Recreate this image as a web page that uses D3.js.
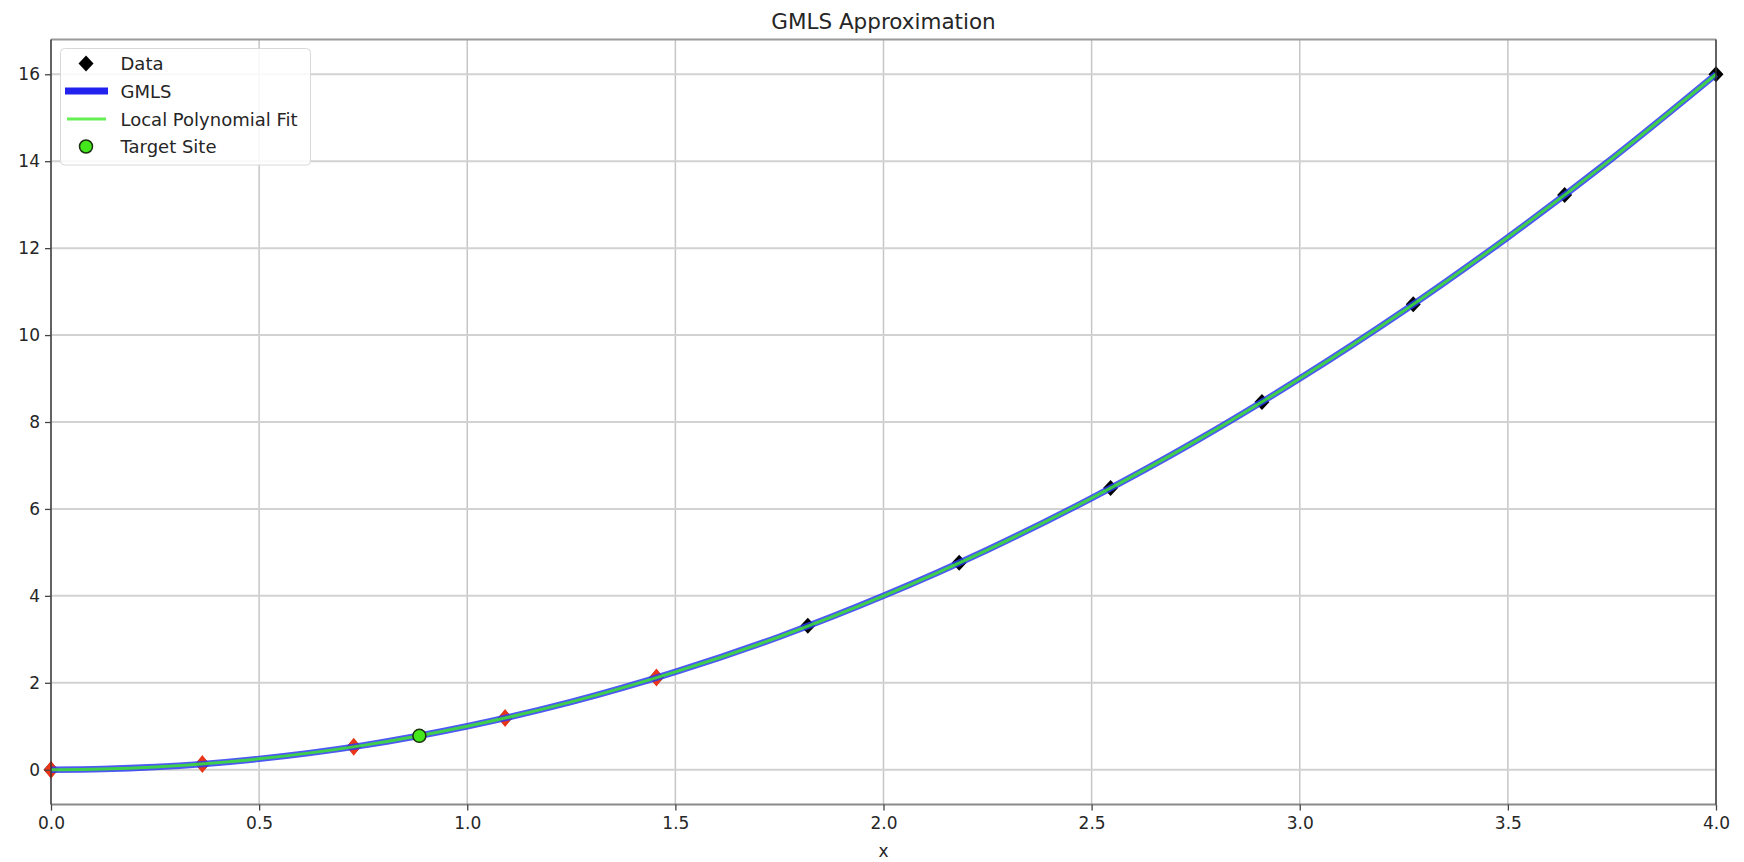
<!DOCTYPE html>
<html>
<head>
<meta charset="utf-8">
<script src="https://cdn.jsdelivr.net/npm/d3@7"></script>
<style>
  body { margin: 0; background: #fff; }
  svg { display: block; }
  text { font-family: "DejaVu Sans", sans-serif; fill: #262626; }
</style>
</head>
<body>
<svg id="chart" width="1744" height="862"></svg>
<script>
// Sample sites and sampled values of f(x) = x^2
const dataX = [0, 0.3636, 0.7273, 1.0909, 1.4545, 1.8182, 2.1818, 2.5455, 2.9091, 3.2727, 3.6364, 4.0];
const dataY = [0, 0.13, 0.53, 1.19, 2.12, 3.31, 4.76, 6.48, 8.46, 10.71, 13.22, 16.0];

// Sites inside the support of the target site
const neighborX = [0, 0.3636, 0.7273, 1.0909, 1.4545];
const neighborY = [0, 0.13, 0.53, 1.19, 2.12];

// Evaluated curves
const curveX = [0, 0.125, 0.25, 0.5, 0.75, 1.0, 1.25, 1.5, 1.75, 2.0, 2.25, 2.5, 2.75, 3.0, 3.25, 3.5, 3.75, 4.0];
const gmlsY = [0.0, 0.015, 0.06, 0.25, 0.56, 1.0, 1.56, 2.25, 3.06, 4.0, 5.06, 6.25, 7.56, 9.0, 10.56, 12.25, 14.06, 16.0];
const localFitY = [0.0, 0.016, 0.063, 0.25, 0.56, 1.0, 1.56, 2.25, 3.06, 4.0, 5.06, 6.25, 7.56, 9.0, 10.56, 12.25, 14.06, 16.0];

// Target site
const targetX = [0.885];
const targetY = [0.78];

// Axes
const xTicks = [0, 0.5, 1.0, 1.5, 2.0, 2.5, 3.0, 3.5, 4.0];
const yTicks = [0, 2, 4, 6, 8, 10, 12, 14, 16];
const legendLabels = ["Data", "GMLS", "Local Polynomial Fit", "Target Site"];

const W = 1744, H = 862;
const m = { left: 51, right: 28, top: 39.5, bottom: 57.5 };
const pw = W - m.left - m.right, ph = H - m.top - m.bottom;

const svg = d3.select("#chart");
svg.append("rect").attr("width", W).attr("height", H).attr("fill", "#fff");

const x = d3.scaleLinear().domain([0, 4]).range([m.left, m.left + pw]);
const y = d3.scaleLinear().domain([-0.8, 16.8]).range([m.top + ph, m.top]);

const g = svg.append("g");

// grid
g.append("g").selectAll("line").data(xTicks).join("line")
  .attr("x1", d => x(d)).attr("x2", d => x(d))
  .attr("y1", m.top).attr("y2", m.top + ph)
  .attr("stroke", "#c6c6c6").attr("stroke-width", 1.5);
g.append("g").selectAll("line").data(yTicks).join("line")
  .attr("x1", m.left).attr("x2", m.left + pw)
  .attr("y1", d => y(d)).attr("y2", d => y(d))
  .attr("stroke", "#d2d2d2").attr("stroke-width", 2);

svg.append("clipPath").attr("id", "plotclip")
  .append("rect").attr("x", m.left - 8).attr("y", m.top).attr("width", pw + 16).attr("height", ph);

const diamond = (cx, cy, hw, hh) =>
  `M${cx},${cy - hh}L${cx + hw},${cy}L${cx},${cy + hh}L${cx - hw},${cy}Z`;

const plot = g.append("g").attr("clip-path", "url(#plotclip)");

// data markers
plot.append("g").selectAll("path").data(dataX.map((d, i) => [d, dataY[i]])).join("path")
  .attr("d", d => diamond(x(d[0]), y(d[1]), 7.5, 8))
  .attr("fill", "#000");
plot.append("g").selectAll("path").data(neighborX.map((d, i) => [d, neighborY[i]])).join("path")
  .attr("d", d => diamond(x(d[0]), y(d[1]), 7, 9))
  .attr("fill", "#ec3418");

const line = d3.line().x(d => x(d[0])).y(d => y(d[1])).curve(d3.curveMonotoneX);

plot.append("path").datum(curveX.map((d, i) => [d, gmlsY[i]]))
  .attr("d", line).attr("fill", "none")
  .attr("stroke", "#2d3cf0").attr("stroke-opacity", 0.85).attr("stroke-width", 6.5);
plot.append("path").datum(curveX.map((d, i) => [d, localFitY[i]]))
  .attr("d", line).attr("fill", "none")
  .attr("stroke", "#3bee22").attr("stroke-opacity", 0.8).attr("stroke-width", 3);

// target site
plot.append("g").selectAll("circle").data(targetX.map((d, i) => [d, targetY[i]])).join("circle")
  .attr("cx", d => x(d[0])).attr("cy", d => y(d[1])).attr("r", 6.5)
  .attr("fill", "#44e61c").attr("stroke", "#1b3010").attr("stroke-width", 1.5);

// spines
g.append("line").attr("x1", m.left).attr("x2", m.left + pw).attr("y1", m.top).attr("y2", m.top)
  .attr("stroke", "#9a9a9a").attr("stroke-width", 2);
g.append("line").attr("x1", m.left).attr("x2", m.left + pw).attr("y1", m.top + ph).attr("y2", m.top + ph)
  .attr("stroke", "#8a8a8a").attr("stroke-width", 2);
g.append("line").attr("x1", m.left).attr("x2", m.left).attr("y1", m.top).attr("y2", m.top + ph)
  .attr("stroke", "#333").attr("stroke-width", 1.4);
g.append("line").attr("x1", m.left + pw).attr("x2", m.left + pw).attr("y1", m.top).attr("y2", m.top + ph)
  .attr("stroke", "#333").attr("stroke-width", 1.4);

// axes
const xAxis = d3.axisBottom(x).tickValues(xTicks).tickFormat(d3.format(".1f")).tickSize(6).tickPadding(6);
const yAxis = d3.axisLeft(y).tickValues(yTicks).tickFormat(d3.format("d")).tickSize(6).tickPadding(5);
const gx = svg.append("g").attr("transform", `translate(0,${m.top + ph})`).call(xAxis);
const gy = svg.append("g").attr("transform", `translate(${m.left},0)`).call(yAxis);
[gx, gy].forEach(a => {
  a.select(".domain").remove();
  a.selectAll(".tick line").attr("stroke", "#444").attr("stroke-width", 1.3);
  a.selectAll(".tick text").attr("font-family", "DejaVu Sans").attr("font-size", 17).attr("fill", "#333");
});

// title and axis label
svg.append("text").attr("x", m.left + pw / 2).attr("y", 28.5).attr("text-anchor", "middle")
  .attr("font-size", 21.5).attr("fill", "#333").text("GMLS Approximation");
svg.append("text").attr("x", m.left + pw / 2).attr("y", 857).attr("text-anchor", "middle")
  .attr("font-size", 17).text("x");

// legend
const lg = svg.append("g");
lg.append("rect").attr("x", 60.5).attr("y", 48.5).attr("width", 250).attr("height", 116.5).attr("rx", 4)
  .attr("fill", "#fff").attr("fill-opacity", 0.85).attr("stroke", "#d8d8d8").attr("stroke-width", 1);
const rowY = [63.5, 91, 119, 146.5];
const hx0 = 65, hx1 = 108, hxc = 86;
lg.append("path").attr("d", diamond(hxc, rowY[0], 7.5, 8)).attr("fill", "#000");
lg.append("line").attr("x1", hx0).attr("x2", hx1).attr("y1", rowY[1]).attr("y2", rowY[1])
  .attr("stroke", "#2222ee").attr("stroke-width", 7);
lg.append("line").attr("x1", hx0 + 2).attr("x2", hx1 - 2).attr("y1", rowY[2]).attr("y2", rowY[2])
  .attr("stroke", "#66ee55").attr("stroke-width", 3);
lg.append("circle").attr("cx", hxc).attr("cy", rowY[3]).attr("r", 6.5)
  .attr("fill", "#44e61c").attr("stroke", "#1b3010").attr("stroke-width", 1.5);
lg.selectAll("text.lbl").data(legendLabels).join("text").attr("class", "lbl")
  .attr("x", 120.5).attr("y", (d, i) => rowY[i] + 6.5)
  .attr("font-size", 18).text(d => d);
</script>
</body>
</html>
